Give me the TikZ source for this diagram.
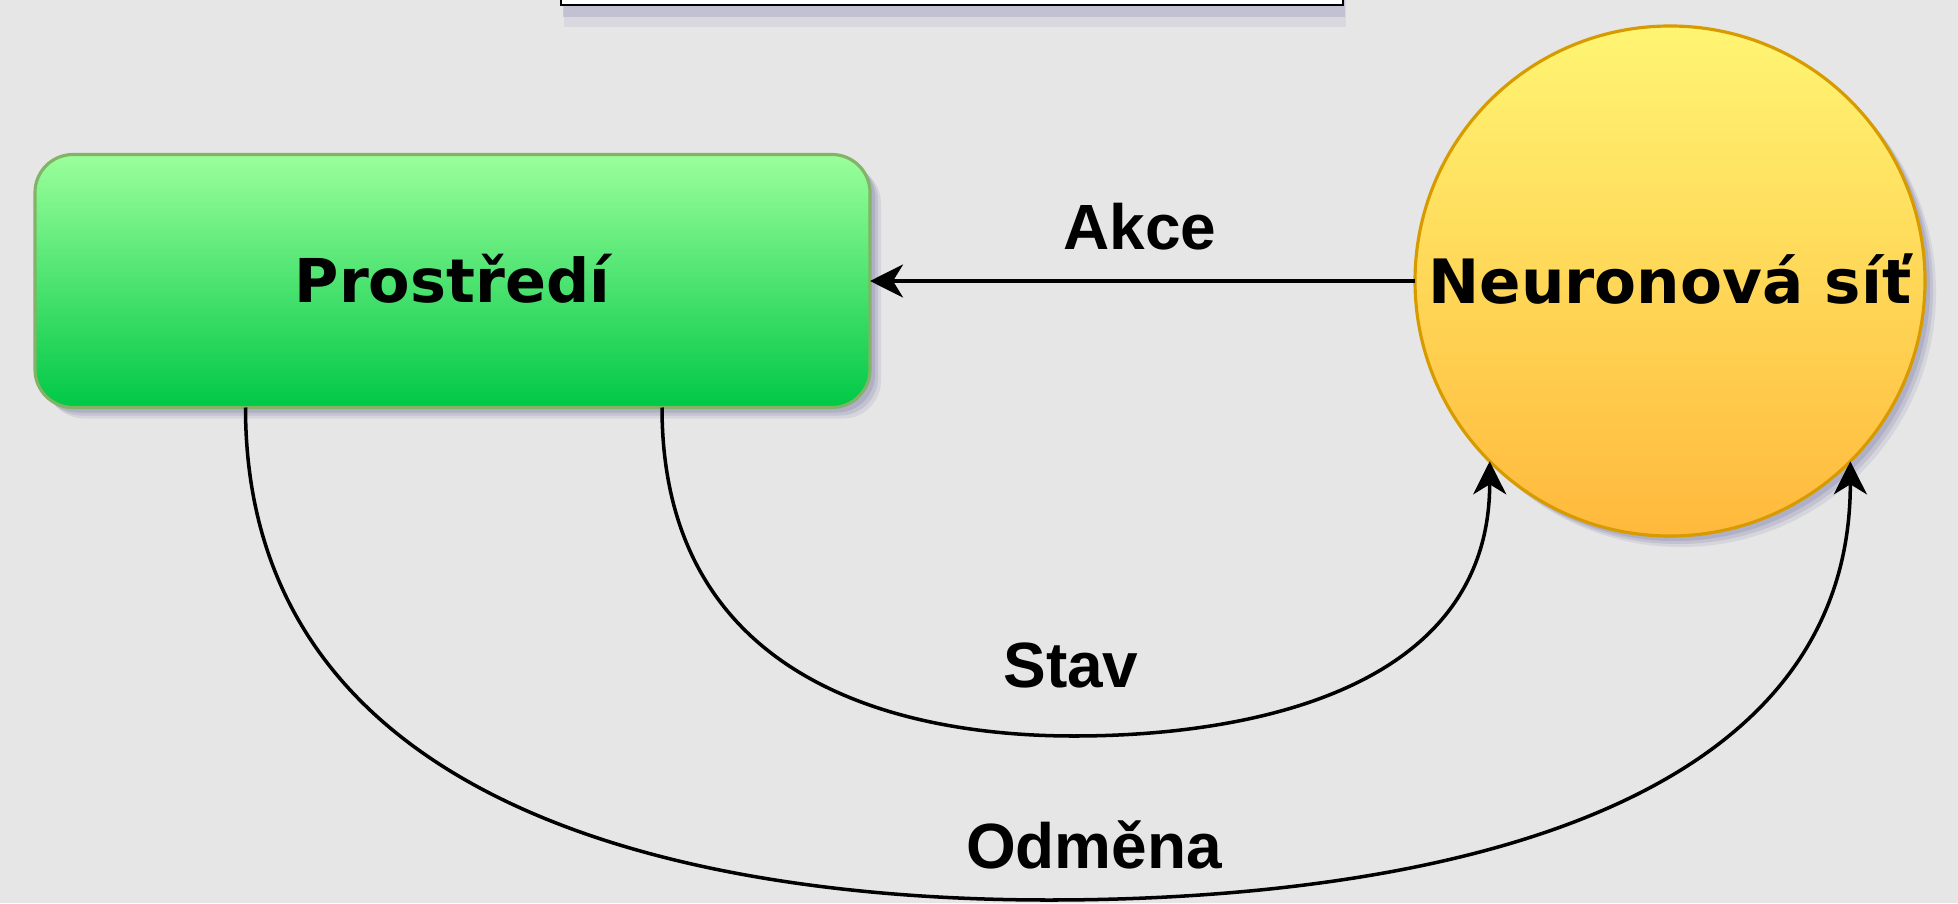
\documentclass[tikz,border=0pt]{standalone}
\usepackage{xcolor}
\usepackage{fontspec}
\usepackage{tikz}
\usetikzlibrary{positioning,arrows.meta,shadows}

\newfontfamily\boxfont{DejaVu Sans}
\newfontfamily\labelfont{Liberation Sans}

\definecolor{bgc}{HTML}{E6E6E6}
\definecolor{envtop}{RGB}{155,255,155}
\definecolor{envbot}{RGB}{0,200,70}
\definecolor{envline}{RGB}{130,179,102}
\definecolor{nettop}{RGB}{255,245,115}
\definecolor{netbot}{RGB}{255,185,60}
\definecolor{netline}{RGB}{215,155,0}
\definecolor{shadowc}{RGB}{140,140,180}

\tikzset{
	every node/.style={inner sep=0pt, outer sep=0pt},
	boxshadow/.style={
		drop shadow={shadow xshift=0.11cm, shadow yshift=-0.11cm, fill=shadowc, opacity=0.18},
		drop shadow={shadow xshift=0.08cm, shadow yshift=-0.08cm, fill=shadowc, opacity=0.25},
		drop shadow={shadow xshift=0.05cm, shadow yshift=-0.05cm, fill=shadowc, opacity=0.35}},
	envbox/.style={draw=envline, line width=0.9pt, rounded corners=0.38cm, top color=envtop, bottom color=envbot,
		minimum width=8.35cm, minimum height=2.53cm, boxshadow,
		font=\boxfont\bfseries\fontsize{17.2}{20}\selectfont, text height=12.5pt, text depth=0pt},
	netcircle/.style={circle, draw=netline, line width=0.9pt, top color=nettop, bottom color=netbot,
		minimum size=5.1cm, boxshadow,
		font=\boxfont\bfseries\fontsize{17.4}{20}\selectfont, text height=12.7pt, text depth=0pt},
	edgelabel/.style={anchor=base, font=\labelfont\bfseries\fontsize{18.2}{22}\selectfont},
	link/.style={line width=1pt, -{Stealth[length=0.33cm, width=0.33cm, inset=0.1cm]}}
}

\begin{document}
\begin{tikzpicture}
	\fill[bgc, use as bounding box] (0,0) rectangle (19.58,9.03);
	\node[draw, fill=white, line width=0.8pt, minimum width=7.82cm, minimum height=2cm, anchor=south,
		drop shadow={shadow xshift=0.03cm, shadow yshift=-0.22cm, fill=shadowc, opacity=0.15},
		drop shadow={shadow xshift=0.02cm, shadow yshift=-0.12cm, fill=shadowc, opacity=0.3}] (panel) at (9.52,8.98) {};
	\node[envbox] (env) at (4.525,6.22) {Prostředí};
	\node[netcircle] (net) at (16.70,6.22) {Neuronová síť};
	\coordinate (stavA) at ([xshift=2.095cm]env.south);
	\coordinate (odmA) at ([xshift=-2.07cm]env.south);
	\coordinate (stavlow) at (10.74,1.67);
	\coordinate (odmlow) at (10.49,0.03);
	\node[edgelabel] (akce) at (11.40,6.53) {Akce};
	\node[edgelabel] (stav) at (10.71,2.16) {Stav};
	\node[edgelabel] (odmena) at (10.94,0.35) {Odměna};
	\draw[link] (net.west) -- (env.east);
	\draw[link] (stavA) .. controls +(0,-2.79) and +(-1.65,0) .. (stavlow) .. controls +(1.66,0) and +(0,-2.33) .. (net.south west);
	\draw[link] (odmA) .. controls +(0,-4.19) and +(-3.21,0) .. (odmlow) .. controls +(3.2,0) and +(0,-3.74) .. (net.south east);
\end{tikzpicture}
\end{document}
